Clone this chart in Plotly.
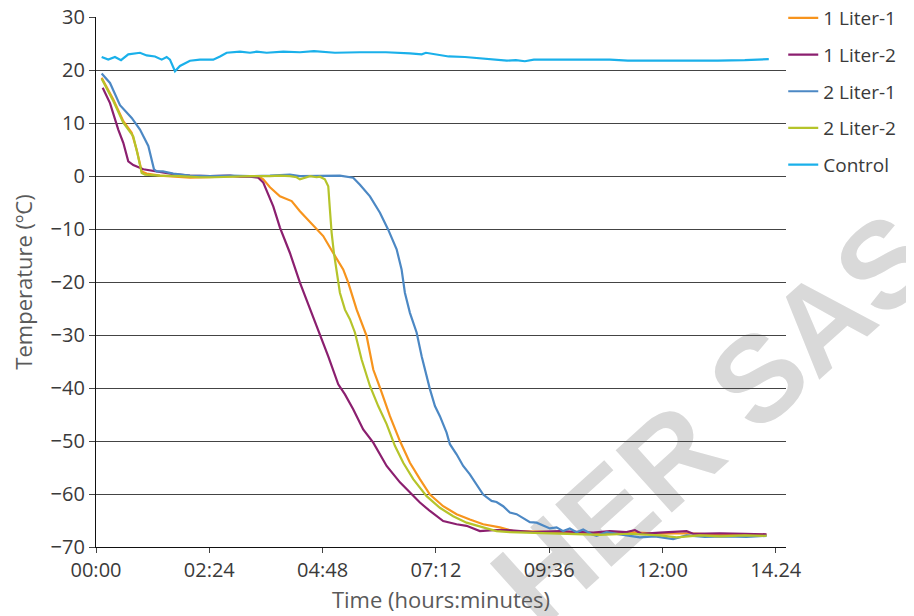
import plotly.graph_objects as go

# Time in minutes since start, temperature in °C
ctrl_t = [7.2, 15.6, 24.1, 31.8, 41.0, 49.6, 55.9, 64.4, 75.0, 83.5, 89.8, 94.0, 100.4, 106.7, 119.4, 132.1,
          149.0, 157.6, 166.1, 183.0, 195.7, 204.2, 216.9, 238.0, 259.2, 277.0, 303.7, 335.5, 368.5, 399.0,
          414.0, 419.3, 426.9, 448.2, 468.9, 493.8, 513.3, 522.2, 533.7, 545.1, 556.5, 589.6, 618.8, 653.1,
          676.0, 703.9, 733.2, 767.5, 790.3, 824.7, 855.1]
ctrl_v = [22.5, 22.0, 22.5, 21.9, 23.0, 23.2, 23.3, 22.8, 22.6, 22.0, 22.5, 22.0, 19.8, 20.8, 21.8, 22.0,
          22.0, 22.6, 23.3, 23.5, 23.3, 23.5, 23.3, 23.5, 23.4, 23.6, 23.3, 23.4, 23.4, 23.2,
          23.0, 23.3, 23.1, 22.6, 22.5, 22.2, 22.0, 21.8, 21.9, 21.7, 22.0, 22.0, 22.0, 22.0,
          21.8, 21.8, 21.7, 21.7, 21.8, 21.9, 22.1]

l2a_t = [7.2, 17.8, 30.5, 45.4, 55.9, 66.5, 73.7, 77.1, 85.1, 98.2, 119.4, 144.9, 170.3, 195.7, 221.1, 246.5,
         259.2, 284.6, 297.3, 310.0, 326.9, 335.5, 348.2, 360.9, 371.4, 382.1, 388.4, 392.6, 399.0, 407.5,
         413.9, 418.0, 424.4, 430.8, 437.1, 445.6, 449.8, 458.3, 466.7, 475.2, 483.7, 492.1, 502.8, 509.1,
         517.5, 526.0, 534.6, 542.9, 551.5, 560.0, 568.4, 576.9, 585.4, 593.8, 602.3, 610.8, 619.2, 629.9,
         636.2, 648.9, 665.8, 691.2, 710.3, 733.5, 750.6, 773.9, 799.2, 826.8, 852.2]
l2a_v = [19.4, 17.6, 13.4, 11.0, 8.8, 5.7, 1.3, 0.9, 0.9, 0.5, 0.1, 0.0, 0.1, 0.0, 0.1, 0.3,
         0.0, 0.1, 0.1, 0.1, -0.3, -1.6, -3.8, -6.9, -10.1, -13.8, -17.6, -22.0, -25.8, -29.5,
         -34.0, -36.5, -40.2, -43.4, -45.3, -48.4, -50.6, -52.5, -54.7, -56.3, -58.2, -60.1, -61.3, -61.5,
         -62.3, -63.5, -63.8, -64.5, -65.3, -65.4, -66.0, -66.5, -66.3, -67.0, -66.5, -67.2, -66.7, -67.6,
         -67.9, -67.2, -67.6, -68.2, -68.0, -68.5, -67.8, -68.1, -68.0, -68.1, -67.9]

l1b_t = [8.5, 17.8, 28.3, 34.7, 41.0, 47.4, 60.1, 77.1, 98.2, 119.4, 144.9, 170.3, 183.0, 195.7, 206.2, 212.6,
         225.3, 233.8, 246.5, 259.2, 267.7, 282.5, 295.2, 307.9, 316.4, 326.9, 339.6, 352.4, 369.4, 386.3,
         399.0, 411.7, 424.4, 441.3, 458.3, 471.0, 487.9, 504.8, 521.9, 534.6, 555.7, 589.6, 631.9, 653.1,
         674.3, 684.9, 693.4, 716.5, 750.6, 759.0, 792.9, 824.7, 852.2]
l1b_v = [16.7, 13.8, 8.8, 6.3, 2.8, 2.1, 1.3, 0.9, 0.4, 0.1, 0.0, 0.1, -0.1, -0.1, -0.3, -1.2,
         -5.7, -9.7, -14.5, -20.1, -23.3, -28.9, -34.0, -39.3, -41.2, -44.0, -47.8, -50.3, -54.7, -57.8,
         -59.7, -61.6, -63.2, -65.1, -65.7, -66.0, -67.0, -66.8, -66.8, -67.0, -67.2, -67.0, -67.3, -67.0,
         -67.2, -66.8, -67.5, -67.3, -67.0, -67.5, -67.4, -67.5, -67.6]

l1a_t = [7.2, 22.0, 34.7, 45.4, 51.7, 58.1, 64.4, 81.3, 100.4, 119.4, 144.9, 170.3, 195.7, 206.2, 212.6, 221.1,
         233.8, 248.7, 259.2, 276.1, 288.8, 301.5, 314.2, 320.6, 331.3, 344.0, 352.4, 360.9, 373.6, 386.3,
         399.0, 411.7, 424.4, 441.3, 458.3, 475.2, 492.1, 513.3, 530.2, 564.2, 602.3, 640.4, 678.5, 716.6,
         754.8, 792.9, 824.7, 852.2]
l1a_v = [18.6, 14.5, 10.4, 8.2, 5.0, 0.9, 0.5, 0.1, -0.1, -0.3, -0.2, 0.0, -0.1, 0.0, -0.6, -2.1,
         -3.8, -4.7, -6.6, -9.4, -11.3, -14.5, -17.6, -20.1, -25.2, -30.2, -36.5, -39.9, -45.3, -50.0,
         -54.1, -57.2, -60.1, -62.3, -63.8, -64.8, -65.7, -66.3, -67.0, -67.1, -67.3, -67.4, -67.2, -67.5,
         -67.4, -67.7, -67.6, -67.7]

l2b_t = [7.2, 22.0, 34.7, 47.4, 52.5, 58.1, 62.3, 81.3, 106.7, 132.1, 151.2, 170.3, 195.7, 221.1, 233.8, 246.5,
         255.0, 259.2, 265.6, 271.9, 280.4, 284.6, 290.9, 295.2, 297.3, 299.5, 302.4, 305.8, 310.0, 316.4,
         322.7, 329.1, 337.6, 348.2, 358.7, 369.4, 379.9, 390.5, 403.2, 420.2, 437.1, 454.0, 471.0, 492.1,
         509.1, 526.0, 564.2, 602.3, 640.4, 678.5, 716.6, 737.9, 767.5, 792.9, 824.7, 852.2]
l2b_v = [18.4, 14.2, 10.1, 7.5, 4.4, 0.6, 0.3, 0.1, 0.0, -0.2, -0.2, -0.1, 0.0, 0.0, 0.1, 0.0,
         -0.2, -0.6, -0.3, 0.0, -0.2, -0.1, -0.6, -1.9, -6.3, -10.7, -14.5, -18.2, -22.0, -25.2,
         -27.0, -29.5, -34.6, -39.6, -43.4, -46.8, -50.9, -54.1, -57.2, -60.4, -62.6, -64.2, -65.4, -66.3,
         -67.0, -67.2, -67.4, -67.6, -67.7, -67.5, -67.8, -68.2, -67.8, -68.0, -67.8, -67.9]

tick_vals = [0, 144, 288, 432, 576, 720, 864]
tick_text = ["00:00", "02:24", "04:48", "07:12", "09:36", "12:00", "14.24"]
y_ticks = [-70, -60, -50, -40, -30, -20, -10, 0, 10, 20, 30]

series = [
    ("1 Liter-1", l1a_t, l1a_v, "#F7941D"),
    ("1 Liter-2", l1b_t, l1b_v, "#8B1F6F"),
    ("2 Liter-1", l2a_t, l2a_v, "#4C88C4"),
    ("2 Liter-2", l2b_t, l2b_v, "#B5C42A"),
    ("Control", ctrl_t, ctrl_v, "#1AB0EA"),
]

FONT = "Open Sans, Liberation Sans, sans-serif"

fig = go.Figure()
for i, (name, t, v, col) in enumerate(series):
    fig.add_trace(go.Scatter(x=t, y=v, name=name, mode="lines", legendgroup=name,
                             line=dict(color=col, width=2.2)))

fig.add_shape(type="line", xref="paper", yref="paper", x0=0.863, y0=0.239, x1=0.903, y1=0.279,
              layer="below", line=dict(color="rgba(0,0,0,0)", width=0),
              label=dict(text="HER SAS", textangle=-42, textposition="middle",
                         xanchor="center", yanchor="middle",
                         font=dict(family="Liberation Sans, Arial, sans-serif", size=122,
                                   color="#d9d9d9", weight="bold")))

fig.update_layout(
    width=906, height=608,
    margin=dict(l=88, r=128, t=9, b=69, autoexpand=False),
    paper_bgcolor="white", plot_bgcolor="rgba(0,0,0,0)",
    font=dict(family=FONT, size=20, color="#3a3a3a"),
    showlegend=True,
    legend=dict(x=0.996, xanchor="left", y=1.034, yanchor="top", traceorder="grouped",
                tracegroupgap=9, font=dict(size=19, color="#3a3a3a"), bgcolor="rgba(0,0,0,0)"),
    xaxis=dict(range=[0, 877], tickmode="array", tickvals=tick_vals, ticktext=tick_text,
               showgrid=False, zeroline=False, showline=True, linecolor="#111", linewidth=1.3,
               ticks="outside", ticklen=5, tickcolor="#444", tickwidth=1, ticklabeloverflow="allow",
               title=dict(text="Time (hours:minutes)", font=dict(size=22, color="#5a5a5a"), standoff=10)),
    yaxis=dict(range=[-70.0, 30.05], tickmode="array", tickvals=y_ticks,
               showgrid=True, gridcolor="#444", gridwidth=1.3, zeroline=False,
               showline=True, linecolor="#111", linewidth=1.3, ticklabeloverflow="allow",
               ticks="outside", ticklen=6, tickcolor="#444", tickwidth=1,
               title=dict(text="Temperature (ºC)", font=dict(size=22, color="#5a5a5a"), standoff=12)),
)

fig.write_html("out.html")
